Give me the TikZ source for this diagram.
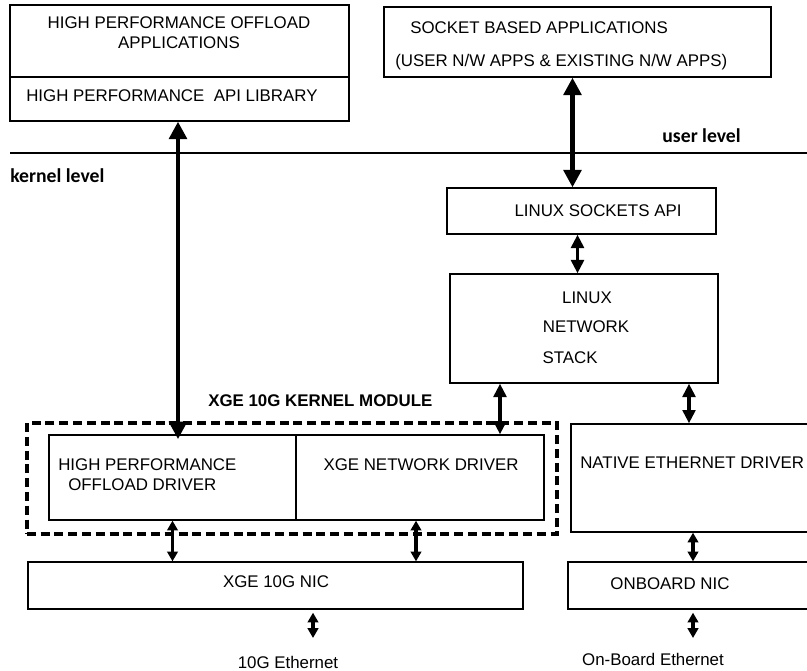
\documentclass[tikz,border=0pt]{standalone}
\usepackage{fontspec}
\setmainfont{Liberation Sans}
\newfontfamily\levelfont{Carlito}
\usepackage{tikz}
\usetikzlibrary{arrows.meta}

\tikzset{
  box/.style={draw, line width=0.9pt, inner sep=0pt},
  modbox/.style={draw, line width=2.4pt, dash pattern=on 6.4pt off 3.4pt, inner sep=0pt},
  bigarrow/.style={line width=3.4pt, {Triangle[length=12.5pt,width=12.5pt]}-{Triangle[length=12.5pt,width=12.5pt]}},
  midarrow/.style={line width=2.6pt, {Triangle[length=9.5pt,width=9pt]}-{Triangle[length=9.5pt,width=9pt]}},
  smallarrow/.style={line width=2.2pt, {Triangle[length=7pt,width=7.5pt]}-{Triangle[length=7pt,width=7.5pt]}},
  lbl/.style={inner sep=0pt},
}

\begin{document}
\begin{tikzpicture}[x=0.025cm, y=-0.025cm, font=\fontsize{12}{14.2}\selectfont]
\useasboundingbox (0,0) rectangle (807,670);

% user level boxes
\node[box, minimum width=8.475cm, minimum height=1.8cm] (hpapp) at (179.5,41) {};
\node[box, minimum width=8.475cm, minimum height=1.1cm] (hpapi) at (179.5,99) {};
\node[box, minimum width=9.675cm, minimum height=1.75cm] (sockapp) at (577.5,42) {};

\node[lbl, align=center] (hpapp text) at (179,33) {HIGH PERFORMANCE OFFLOAD\\APPLICATIONS};
\node[lbl, anchor=west] (hpapi text) at (26,96) {HIGH PERFORMANCE\ \ API LIBRARY};
\node[lbl, anchor=west] (sockapp text1) at (410,28) {SOCKET BASED APPLICATIONS};
\node[lbl, anchor=west] (sockapp text2) at (395,62) {(USER N/W APPS \& EXISTING N/W APPS)};

% the line between user and kernel
\node[coordinate] (levelleft) at (10,153) {};
\node[coordinate] (levelright) at (807,153) {};
\draw[line width=1pt] (levelleft) -- (levelright);
\node[lbl, anchor=east, font=\levelfont\bfseries\fontsize{14}{16}\selectfont] (userlevel) at (741,136) {user level};
\node[lbl, anchor=west, font=\levelfont\bfseries\fontsize{14}{16}\selectfont] (kernellevel) at (10,176) {kernel level};

% linux side
\node[box, minimum width=6.725cm, minimum height=1.15cm] (lsapi) at (581.5,211) {};
\node[lbl] (lsapi text) at (598,211) {LINUX SOCKETS API};
\node[box, minimum width=6.7cm, minimum height=2.725cm] (stack) at (584,328.5) {};
\node[lbl] (stack text1) at (587,298) {LINUX};
\node[lbl] (stack text2) at (586,327) {NETWORK};
\node[lbl] (stack text3) at (570,358) {STACK};

% kernel module
\node[modbox, minimum width=13.25cm, minimum height=2.775cm] (module) at (292,478.5) {};
\node[lbl, anchor=west, font=\fontsize{12}{14.2}\selectfont\bfseries] (module text) at (208,401) {XGE 10G KERNEL MODULE};
\node[box, minimum width=6.175cm, minimum height=2.125cm] (hpod) at (172.5,477.5) {};
\node[box, minimum width=6.2cm, minimum height=2.125cm] (xged) at (420,477.5) {};
\node[lbl, anchor=west] (hpod text1) at (58,465) {HIGH PERFORMANCE};
\node[lbl, anchor=west] (hpod text2) at (68,485) {OFFLOAD DRIVER};
\node[lbl] (xged text) at (421,465) {XGE NETWORK DRIVER};

\node[box, minimum width=6.725cm, minimum height=2.7cm] (native) at (705.5,478) {};
\node[lbl, anchor=west] (native text) at (580,463) {NATIVE ETHERNET DRIVER};

% nics
\node[box, minimum width=12.375cm, minimum height=1.175cm] (xgenic) at (275.5,585.5) {};
\node[lbl] (xgenic text) at (276,582) {XGE 10G NIC};
\node[box, minimum width=6.8cm, minimum height=1.175cm] (obnic) at (704,585.5) {};
\node[lbl] (obnic text) at (670,584) {ONBOARD NIC};

\node[coordinate] (eth10top) at (313,638) {};
\node[coordinate] (ethobtop) at (693,638) {};
\node[lbl] (eth10) at (288,662) {10G Ethernet};
\node[lbl] (ethob) at (653,659) {On-Board Ethernet};

% arrows
\draw[bigarrow] (hpapi.south -| 178,0) -- ([yshift=-0.12cm]hpod.north -| 178,0);
\draw[bigarrow] ([shift={(-5,0)}]sockapp.south) -- ([shift={(-5,0)}]sockapp.south |- lsapi.north);
\draw[midarrow] ([shift={(-4,0)}]lsapi.south) -- ([shift={(-4,0)}]lsapi.south |- stack.north);
\draw[midarrow] ([shift={(-84,0)}]stack.south) -- ([shift={(-84,0)}]stack.south |- xged.north);
\draw[midarrow] ([shift={(105,0)}]stack.south) -- ([shift={(105,0)}]stack.south |- native.north);
\draw[smallarrow] (hpod.south) -- (hpod.south |- xgenic.north);
\draw[smallarrow] ([shift={(-4,0)}]xged.south) -- ([shift={(-4,0)}]xged.south |- xgenic.north);
\draw[smallarrow] (native.south -| ethobtop) -- (obnic.north -| ethobtop);
\draw[smallarrow] ([shift={(0,3)}]xgenic.south -| eth10top) -- (eth10top);
\draw[smallarrow] ([shift={(0,3)}]obnic.south -| ethobtop) -- (ethobtop);
\end{tikzpicture}
\end{document}
